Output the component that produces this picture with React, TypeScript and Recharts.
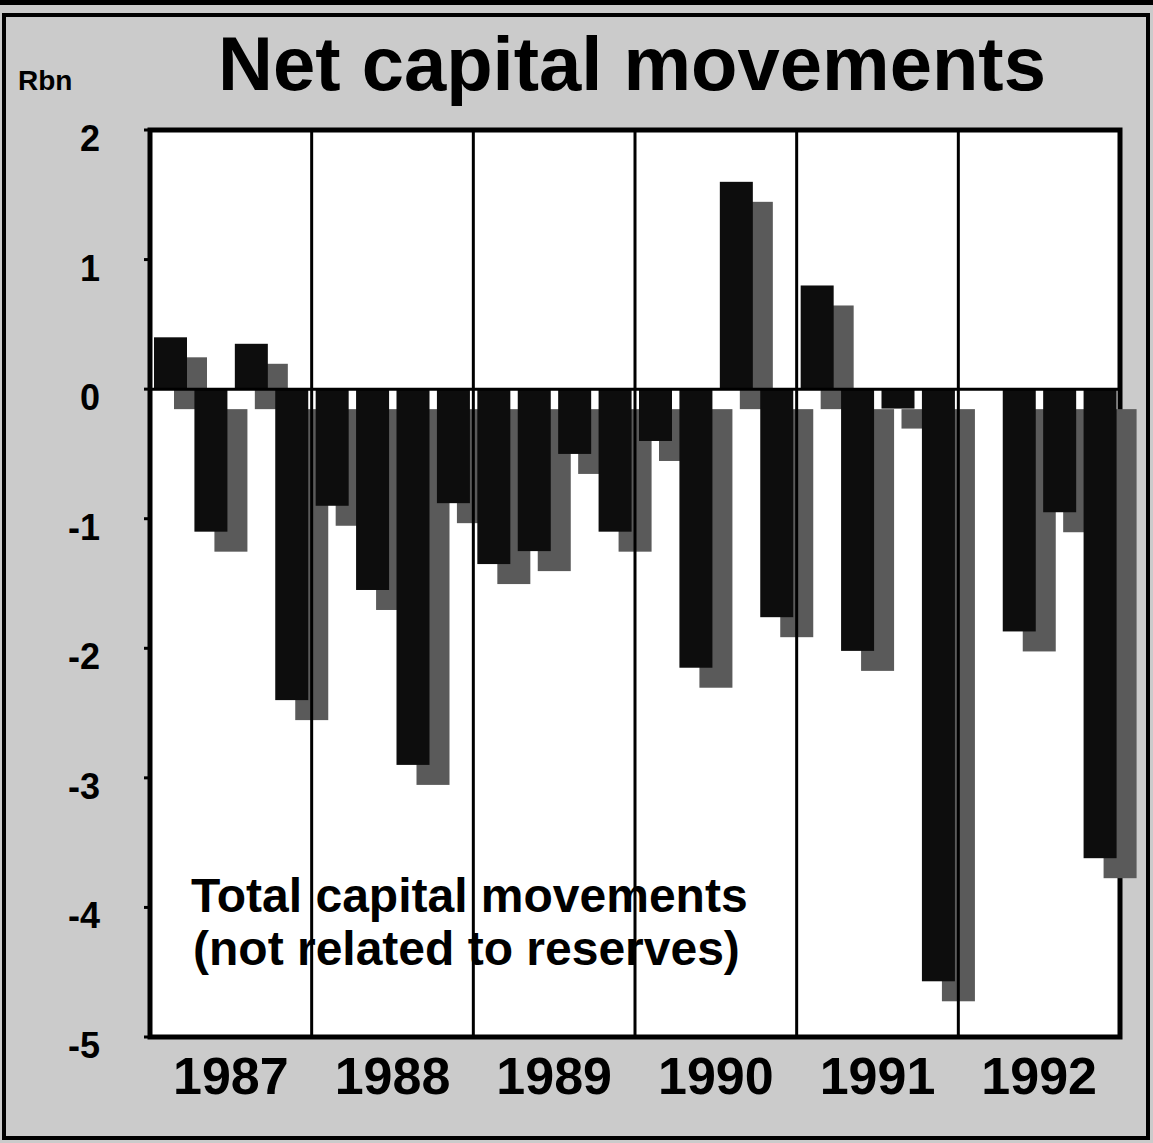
import React from 'react';
import { BarChart, Bar, XAxis, YAxis, ReferenceLine, ReferenceArea, CartesianGrid } from 'recharts';

// Quarterly net capital movements, Rbn
const quarters = [
  '1987 Q1', '1987 Q2', '1987 Q3', '1987 Q4',
  '1988 Q1', '1988 Q2', '1988 Q3', '1988 Q4',
  '1989 Q1', '1989 Q2', '1989 Q3', '1989 Q4',
  '1990 Q1', '1990 Q2', '1990 Q3', '1990 Q4',
  '1991 Q1', '1991 Q2', '1991 Q3', '1991 Q4',
  '1992 Q1', '1992 Q2', '1992 Q3', '1992 Q4',
];
const netCapital: (number | null)[] = [
  0.4, -1.1, 0.35, -2.4,
  -0.9, -1.55, -2.9, -0.88,
  -1.35, -1.25, -0.5, -1.1,
  -0.4, -2.15, 1.6, -1.76,
  0.8, -2.02, -0.15, -4.57,
  null, -1.87, -0.95, -3.62,
];
const years = ['1987', '1988', '1989', '1990', '1991', '1992'];
const yTicks = [2, 1, 0, -1, -2, -3, -4, -5];
const yearStarts = ['1988 Q1', '1989 Q1', '1990 Q1', '1991 Q1', '1992 Q1'];

const data = quarters.map((q, i) => ({ q, v: netCapital[i] }));

const FONT = '"Liberation Sans", Arial, Helvetica, sans-serif';

function ShadowBar(props: any) {
  const { x, y, width, height } = props;
  if (width == null || height == null || !isFinite(height) || height === 0) return null;
  const top = Math.min(y, y + height);
  const h = Math.abs(height);
  return (
    <g>
      <rect x={x + 20} y={top + 20} width={width} height={h} fill="#5a5a5a" />
      <rect x={x} y={top} width={width} height={h} fill="#0d0d0d" />
    </g>
  );
}

function YTick(props: any) {
  const { x, y, payload } = props;
  return (
    <text x={x} y={y} dy={21} textAnchor="end" fontFamily={FONT} fontWeight="bold" fontSize={36} fill="#000">
      {payload.value}
    </text>
  );
}

function YearTick(props: any) {
  const { x, y, index, payload } = props;
  if (index % 4 !== 1) return null;
  const half = payload && payload.offset ? payload.offset : 20;
  return (
    <text x={x + half} y={y} dy={57} textAnchor="middle" fontFamily={FONT} fontWeight="bold" fontSize={52} fill="#000">
      {years[Math.floor(index / 4)]}
    </text>
  );
}

export default function App() {
  return (
    <div style={{ position: 'absolute', left: 0, top: 0, width: 1153, height: 1143, background: '#cbcbcb', overflow: 'hidden' }}>
      <div style={{ position: 'absolute', left: 0, top: 0, width: 1153, height: 5, background: '#000' }} />
      <div style={{ position: 'absolute', left: 2, top: 13, width: 1148, height: 1127, border: '4px solid #000', boxSizing: 'border-box' }} />
      <div style={{ position: 'absolute', left: 0, top: 0 }}>
        <BarChart width={1153} height={1143} data={data} margin={{ top: 130, right: 33, bottom: 0, left: 0 }} barCategoryGap={0}>
          <CartesianGrid horizontal={false} vertical={false} fill="#ffffff" />
          <XAxis
            dataKey="q"
            type="category"
            interval={0}
            height={106}
            axisLine={false}
            tickLine={false}
            tickSize={0}
            tickMargin={0}
            tick={<YearTick />}
          />
          <YAxis
            type="number"
            domain={[-5, 2]}
            ticks={yTicks}
            interval={0}
            width={150}
            axisLine={false}
            tickLine={{ stroke: '#000', strokeWidth: 3 }}
            tickSize={6}
            tickMargin={44}
            tick={<YTick />}
          />
          <Bar dataKey="v" barSize={33} shape={<ShadowBar />} isAnimationActive={false} />
          <ReferenceLine y={0} stroke="#000" strokeWidth={3} />
          {yearStarts.map((q) => (
            <ReferenceLine key={q} x={q} position="start" stroke="#000" strokeWidth={3} />
          ))}
          <ReferenceArea y1={-5} y2={2} fill="none" fillOpacity={0} stroke="#000" strokeWidth={5} />
        </BarChart>
      </div>
      <svg width={1153} height={1143} style={{ position: 'absolute', left: 0, top: 0, pointerEvents: 'none' }}>
        <text x={632} y={90} textAnchor="middle" fontFamily={FONT} fontWeight="bold" fontSize={76} fill="#000">
          Net capital movements
        </text>
        <text x={18} y={90} fontFamily={FONT} fontWeight="bold" fontSize={28} fill="#000">
          Rbn
        </text>
        <text x={191} y={912} fontFamily={FONT} fontWeight="bold" fontSize={48} fill="#000">
          Total capital movements
        </text>
        <text x={193} y={965} fontFamily={FONT} fontWeight="bold" fontSize={48} fill="#000">
          (not related to reserves)
        </text>
      </svg>
    </div>
  );
}
